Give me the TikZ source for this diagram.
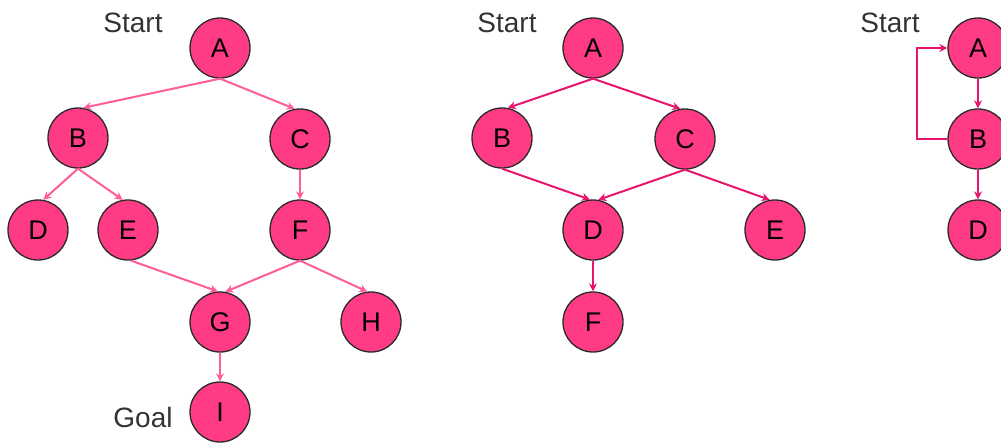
\documentclass[tikz,border=0pt]{standalone}
\usepackage{fontspec}
\setmainfont{Liberation Sans}
\usetikzlibrary{arrows.meta}
\definecolor{nodefill}{HTML}{FF3B85}
\definecolor{edgelight}{HTML}{FF5C9A}
\definecolor{edgedark}{HTML}{E8156E}
\definecolor{outline}{HTML}{2A2A2A}
\definecolor{labelgray}{HTML}{333333}
\tikzset{
  vtx/.style={circle, draw=outline, line width=1.3pt, fill=nodefill, minimum size=60pt, inner sep=0pt,
    font=\fontsize{27}{30}\selectfont},
  lbl/.style={text=labelgray, font=\fontsize{28}{30}\selectfont, inner sep=0pt},
  elight/.style={draw=edgelight, line width=2pt, -{Stealth[length=8pt,width=8pt]}},
  edark/.style={draw=edgedark, line width=2pt, -{Stealth[length=8pt,width=8pt]}},
}
\begin{document}
\begin{tikzpicture}[x=1pt,y=-1pt]
\useasboundingbox (0,0) rectangle (1001,442);
% left graph
\node[vtx] (LA) at (220,48) {A};
\node[vtx] (LB) at (78,138) {B};
\node[vtx] (LC) at (300,139) {C};
\node[vtx] (LD) at (38,230) {D};
\node[vtx] (LE) at (128,230) {E};
\node[vtx] (LF) at (300,230) {F};
\node[vtx] (LG) at (220,322) {G};
\node[vtx] (LH) at (371,322) {H};
\node[vtx] (LI) at (220,412) {I};
\node[lbl] (Lstart) at (133,23) {Start};
\node[lbl] (Lgoal) at (143,417) {Goal};
\draw[elight] (LA.south) -- (LB.80);
\draw[elight] (LA.south) -- (LC.100);
\draw[elight] (LB.south) -- (LD.80);
\draw[elight] (LB.south) -- (LE.100);
\draw[elight] (LC.south) -- (LF.north);
\draw[elight] (LE.-85) -- (LG.94);
\draw[elight] (LF.south) -- (LG.80);
\draw[elight] (LF.south) -- (LH.97);
\draw[elight] (LG.south) -- (LI.north);
% middle graph
\node[vtx] (MA) at (593,48) {A};
\node[vtx] (MB) at (502,138) {B};
\node[vtx] (MC) at (685,139) {C};
\node[vtx] (MD) at (593,230) {D};
\node[vtx] (ME) at (775,230) {E};
\node[vtx] (MF) at (593,322) {F};
\node[lbl] (Mstart) at (507,23) {Start};
\draw[edark] (MA.south) -- (MB.79);
\draw[edark] (MA.south) -- (MC.99);
\draw[edark] (MB.south) -- (MD.96);
\draw[edark] (MC.south) -- (MD.80);
\draw[edark] (MC.south) -- (ME.100);
\draw[edark] (MD.south) -- (MF.north);
% right graph
\node[vtx] (RA) at (978,48) {A};
\node[vtx] (RB) at (978,139) {B};
\node[vtx] (RD) at (978,230) {D};
\node[lbl] (Rstart) at (890,23) {Start};
\draw[edark] (RA.south) -- (RB.north);
\draw[edark] (RB.south) -- (RD.north);
\draw[edark] (RB.west) -| (917,48) -- (RA.west);
\end{tikzpicture}
\end{document}
